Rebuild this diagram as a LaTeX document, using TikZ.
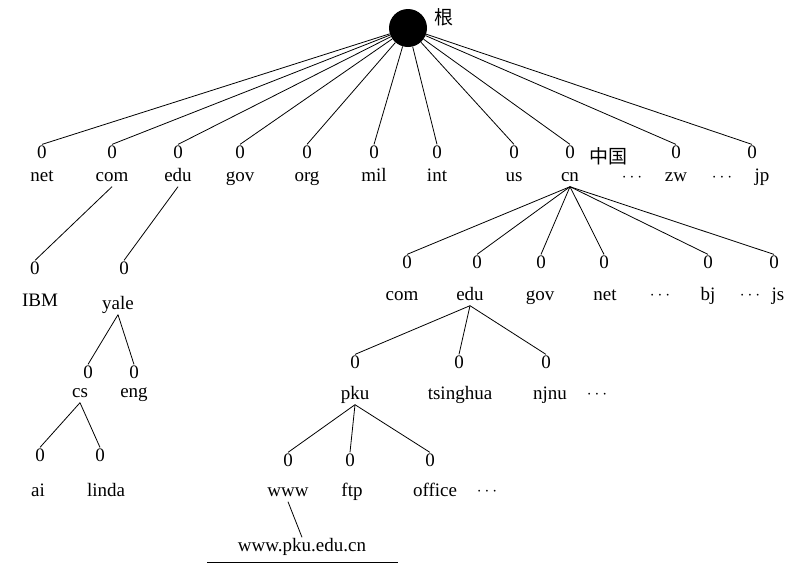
\documentclass[tikz,border=0pt]{standalone}
\usepackage{fontspec}
\setmainfont{Liberation Serif}
\newfontfamily\cjk{Noto Sans CJK SC}
\tikzset{
  zero/.style={inner sep=1pt, font=\fontsize{19}{22}\selectfont},
  lbl/.style={inner sep=1pt, text height=13pt, text depth=4pt, font=\fontsize{19}{22}\selectfont},
  dotsl/.style={inner sep=1pt, font=\fontsize{19}{22}\selectfont},
  edge/.style={draw, thick},
}
\newcommand{\mydots}{\textbf{$\boldsymbol{\cdots}$}}
\begin{document}
\begin{tikzpicture}[x=1pt,y=-1pt]
  \useasboundingbox (0,0) rectangle (804,574);
  \node[circle, fill=black, minimum size=38pt, inner sep=0pt] (root) at (408,28) {};
  \node[lbl] (gen) at (444,20) {\cjk 根};
  % first level
  \foreach \name/\x/\lx in {net/42/42, com/112/112, edu/178/178, gov/240/240,
      org/307/307, mil/374/374, int/437/437, us/514/514, cn/570/570, zw/676/676, jp/752/762} {
    \node[zero] (z-\name) at (\x,152) {0};
    \node[lbl] (\name) at (\lx,177) {\name};
    \draw[edge] (root) -- (z-\name.north);
  }
  \node[lbl] (china) at (608,159) {\cjk 中国};
  \node[dotsl] (dots1) at (632,178) {$\cdots$};
  \node[dotsl] (dots2) at (722,178) {$\cdots$};
  % under com and edu
  \node[zero] (z-ibm) at (35,268) {0};
  \node[lbl] (ibm) at (40,302) {IBM};
  \node[zero] (z-yale) at (124,268) {0};
  \node[lbl] (yale) at (118,305) {yale};
  \draw[edge] (com.south) -- (z-ibm.north);
  \draw[edge] (edu.south) -- (z-yale.north);
  \node[zero] (z-cs) at (88,372) {0};
  \node[lbl] (cs) at (80,393) {cs};
  \node[zero] (z-eng) at (134,372) {0};
  \node[lbl] (eng) at (134,393) {eng};
  \draw[edge] (yale.south) -- (z-cs.north);
  \draw[edge] (yale.south) -- (z-eng.north);
  \node[zero] (z-ai) at (40,455) {0};
  \node[lbl] (ai) at (38,492) {ai};
  \node[zero] (z-linda) at (100,455) {0};
  \node[lbl] (linda) at (106,492) {linda};
  \draw[edge] (cs.south) -- (z-ai.north);
  \draw[edge] (cs.south) -- (z-linda.north);
  % under cn
  \foreach \name/\x/\lx/\txt in {ccom/407/402/com, cedu/477/470/edu, cgov/541/540/gov,
      cnet/604/605/net, cbj/708/708/bj, cjs/774/778/js} {
    \node[zero] (z-\name) at (\x,262) {0};
    \node[lbl] (\name) at (\lx,296) {\txt};
    \draw[edge] (cn.south) -- (z-\name.north);
  }
  \node[dotsl] (dots3) at (660,296) {$\cdots$};
  \node[dotsl] (dots4) at (750,296) {$\cdots$};
  % under cn.edu
  \foreach \name/\x/\lx in {pku/355/355, tsinghua/459/460, njnu/546/550} {
    \node[zero] (z-\name) at (\x,362) {0};
    \node[lbl] (\name) at (\lx,395) {\name};
    \draw[edge] (cedu.south) -- (z-\name.north);
  }
  \node[dotsl] (dots5) at (597,395) {$\cdots$};
  % under pku
  \foreach \name/\x/\lx in {www/288/288, ftp/350/352, office/430/435} {
    \node[zero] (z-\name) at (\x,460) {0};
    \node[lbl] (\name) at (\lx,492) {\name};
    \draw[edge] (pku.south) -- (z-\name.north);
  }
  \node[dotsl] (dots6) at (487,492) {$\cdots$};
  \node[lbl] (full) at (302,547) {www.pku.edu.cn};
  \draw[edge] (www.south) -- (full.north);
  \draw[thick] (207,562) -- (398,562);
\end{tikzpicture}
\end{document}
